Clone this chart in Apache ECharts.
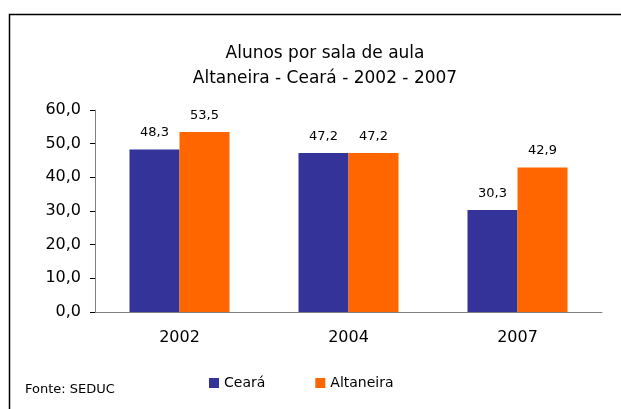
<!DOCTYPE html>
<html>
<head>
<meta charset="utf-8">
<script src="https://cdn.jsdelivr.net/npm/echarts@6/dist/echarts.min.js"></script>
<style>
  html, body { margin: 0; padding: 0; background: #fff; }
  #chart { width: 621px; height: 409px; }
</style>
</head>
<body>
<div id="chart"></div>
<script>
var anos = ['2002', '2004', '2007'];
var ceara = [48.3, 47.2, 30.3];
var altaneira = [53.5, 47.2, 42.9];

var myChart = echarts.init(document.getElementById('chart'));
var fonte = 'DejaVu Sans, Arial, sans-serif';
function virgula(v) { return v.toFixed(1).replace('.', ','); }

var option = {
    animation: false,
    textStyle: { fontFamily: fonte },
    title: {
        text: 'Alunos por sala de aula\nAltaneira - Ceará - 2002 - 2007',
        left: 320, top: 36, textAlign: 'center',
        textStyle: { fontSize: 17, fontWeight: 'normal', color: '#000', lineHeight: 25, fontFamily: fonte }
    },
    legend: {
        data: ['Ceará', 'Altaneira'],
        left: 204, top: 371,
        itemWidth: 10, itemHeight: 10, itemGap: 50, itemTextGap: 5,
        icon: 'rect',
        textStyle: { fontSize: 14, color: '#000', fontFamily: fonte }
    },
    grid: { left: 95, right: 19, top: 110, bottom: 97 },
    xAxis: {
        type: 'category',
        data: anos,
        axisLine: { lineStyle: { color: '#808080' } },
        axisTick: { lineStyle: { color: '#000' }, length: 5 },
        axisLabel: { fontSize: 16, color: '#000', margin: 18 }
    },
    yAxis: {
        type: 'value', min: 0, max: 60, interval: 10,
        axisLine: { show: true, lineStyle: { color: '#808080' } },
        axisTick: { show: true, length: 5, lineStyle: { color: '#000' } },
        splitLine: { show: false },
        axisLabel: { fontSize: 16, color: '#000', margin: 14, formatter: virgula }
    },
    graphic: [
        { type: 'rect', shape: { x: 9.5, y: 14.5, width: 700, height: 500 },
          style: { fill: 'none', stroke: '#000', lineWidth: 1.5 } },
        { type: 'text', left: 25, top: 383,
          style: { text: 'Fonte: SEDUC', fontSize: 13, fill: '#000', fontFamily: fonte } }
    ],
    series: [
        {
            name: 'Ceará', type: 'bar', data: ceara,
            barWidth: 50, barGap: '0%',
            itemStyle: { color: '#333399' },
            label: { show: true, position: 'top', distance: 10, fontSize: 13, color: '#000', formatter: function (p) { return virgula(p.value); } }
        },
        {
            name: 'Altaneira', type: 'bar', data: altaneira,
            barWidth: 50,
            itemStyle: { color: '#FF6600' },
            label: { show: true, position: 'top', distance: 10, fontSize: 13, color: '#000', formatter: function (p) { return virgula(p.value); } }
        }
    ]
};

myChart.setOption(option);
</script>
</body>
</html>
